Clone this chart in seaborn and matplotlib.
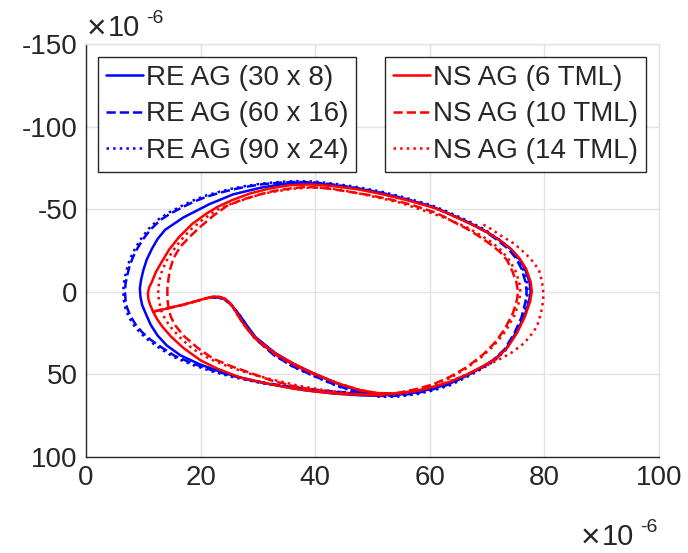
import numpy as np
import seaborn as sns
import matplotlib
matplotlib.use("Agg")
import matplotlib.pyplot as plt

# trajectories, in units of 1e-6
re30_x = [21.8, 22.6, 23.5, 24.3, 25.1, 26, 27, 28.2, 29.6, 33, 36.3, 39.5, 44, 48, 51, 54, 57.5, 60.6, 63.5, 66.3,
          69, 71.3, 73.3, 75, 76.5, 77.3, 77.6, 77.4, 76.6, 75.5, 74.1, 72.1, 69.8, 67.3, 64.8, 62.5, 60.4, 55.8,
          51.6, 47.3, 43, 40, 37.3, 34, 30.5, 27.5, 25.7, 21.5, 17, 13.8, 12.5, 11.5, 10.6, 10, 9.6, 9.4, 9.5, 9.8,
          10.4, 11.3, 12.5, 14.1, 16.5, 19.9, 24, 28.6, 33, 38, 43, 48, 52]
re30_y = [3.2, 3.1, 3.6, 4.8, 7, 10.5, 15, 21, 27.5, 37, 43.8, 49, 55.7, 60.5, 62.3, 62.5, 61, 58.5, 55.5, 51,
          46, 41, 34.5, 25, 15, 6, 0, -6, -14, -20.5, -26, -31.5, -36.5, -41, -45, -48.5, -51.5, -56,
          -59.5, -62.5, -64.5, -65.5, -66, -65, -63, -60.5, -59, -53, -45, -37.5, -32, -26, -19.5, -13, -7, -2, 3, 8,
          13, 20, 26.5, 32.5, 38.5, 44, 49, 53.5, 56.5, 59.5, 61.5, 62.7, 63]

re60_x = [22, 22.8, 23.6, 24.4, 25.2, 26, 27, 28.1, 29.4, 32.7, 36, 39.2, 43.8, 48, 51, 54, 57.5, 60.6, 63.4, 66,
          68.7, 71, 73, 74.7, 76, 76.7, 76.9, 76.7, 76, 75, 73.7, 71.7, 69.5, 67, 64.5, 62.2, 60, 55.5, 51.5, 47,
          43, 39.5, 36.5, 33.5, 30.5, 27.8, 25.7, 23.2, 21, 18.8, 17, 14.8, 13, 11.2, 10, 9, 8.2, 7.6, 7.2, 6.9, 6.8,
          6.9, 7.2, 7.8, 8.7, 9.8, 11.2, 12.9, 15.5, 18.7, 22, 25.7, 31, 37.3, 43, 49, 53]
re60_y = [3.4, 3.3, 3.9, 5.2, 7.5, 11, 15.5, 21.5, 28, 38, 45, 50, 56.8, 61.5, 63, 63, 61.5, 59, 56, 51.5,
          46.5, 41.5, 35, 25.5, 15.5, 6, 0, -6, -14, -20.5, -26, -31.5, -37, -41.5, -45.5, -49, -52, -56.5, -60, -63,
          -65, -66.3, -66.5, -66, -65, -63.5, -62, -59.8, -57.5, -54.5, -51.5, -47.5, -43.5, -37.5, -32, -26.5, -21,
          -15.5, -10, -5, 0, 5, 10, 15, 20, 24.5, 28.8, 33, 38.8, 43.5, 47.5, 51, 55, 58.3, 60.3, 61.7, 62.5]

re90_x = [22.2, 23, 23.8, 24.6, 25.4, 26.2, 27.2, 28.3, 29.6, 32.9, 36.2, 39.4, 44, 48.2, 51.2, 54.2, 57.7, 60.8,
          63.6, 66.2, 68.9, 71.2, 73.2, 74.9, 76.2, 76.9, 77.1, 76.9, 76.2, 75.2, 73.9, 71.9, 69.7, 67.2, 64.7,
          62.4, 60.2, 55.7, 51.7, 47.2, 43.2, 39.7, 36.7, 33.7, 30.6, 27.8, 25.5, 23, 20.7, 18.5, 16.7, 14.5, 12.7,
          10.9, 9.7, 8.7, 7.9, 7.3, 6.9, 6.6, 6.5, 6.6, 6.9, 7.5, 8.4, 9.5, 10.9, 12.6, 15.2, 18.4, 21.8, 25.5,
          30.9, 37.2, 43, 49, 53]
re90_y = [3.6, 3.5, 4.1, 5.5, 7.8, 11.5, 16, 22, 28.5, 38.5, 45.5, 50.5, 57.3, 62, 63.5, 63.5, 62, 59.5, 56.5,
          52, 47, 42, 35.5, 26, 16, 6.5, 0, -6.5, -14.5, -21, -26.5, -32, -37.5, -42, -46, -49.5, -52.5, -57,
          -60.5, -63.5, -65.5, -66.8, -67, -66.5, -65.5, -64, -62.5, -60.3, -58, -55, -52, -48, -44, -38, -32.5,
          -27, -21.5, -16, -10.5, -5, 0, 5, 10, 15.5, 20.5, 25, 29.3, 33.5, 39.3, 44, 48, 51.5, 55.5, 58.7, 60.7,
          62, 63]

ns6_x = [11.7, 17, 20.5, 21.6, 22.5, 23.4, 24.2, 24.9, 25.6, 26.4, 27.3, 28.5, 30, 33.3, 36.5, 39.6, 44, 47.8, 50.8,
         54, 57.5, 60.6, 63.5, 66.5, 69.3, 71.5, 73.5, 75.2, 76.6, 77.5, 77.8, 77.6, 76.8, 75.7, 74.3, 72.3, 70,
         67.5, 65, 62.8, 60.6, 56, 51.8, 47.5, 43.1, 39.1, 35.5, 32, 28.6, 25.5, 23, 21.1, 18.5, 16.2, 14.5, 13.2,
         12.2, 11.5, 11, 10.8, 10.9, 11.2, 11.7, 12.4, 13.3, 14.8, 17, 20, 22.9, 27, 31.6, 36, 40.3, 44, 47.8, 52]
ns6_y = [12.1, 7.8, 4.4, 3.4, 3, 3.2, 4.2, 6, 9, 13.5, 18.5, 24, 29.5, 38, 44, 49.3, 55.5, 59.5, 61.3,
         61.5, 60, 57.5, 54.5, 50, 45, 40.5, 34, 25, 15, 6, 0, -6, -14, -20, -25.5, -31, -36,
         -40.5, -44.5, -48, -51, -55.5, -59, -62, -64, -65, -64.5, -62.5, -59.5, -55.5, -51.5, -47.5, -41, -33,
         -25.5, -18, -12, -6, -2.5, 1, 4.5, 8, 12, 16.5, 21, 27, 34, 41.5, 46.5, 52, 55.5, 58.5, 60.5, 61.7, 62.3,
         62.5]

ns10_x = [11.7, 17, 20.5, 21.6, 22.5, 23.4, 24.2, 24.9, 25.6, 26.4, 27.4, 28.7, 30.2, 33.5, 36.7, 39.8, 44, 48, 51,
          54, 57.5, 60.6, 63.5, 66.5, 69.3, 71.3, 73, 74.5, 75.2, 75.4, 75.1, 74.4, 73.5, 72.3, 70.5, 68.2, 66.3,
          64.3, 62.5, 60.6, 56.5, 53, 49.5, 46, 42.3, 38.6, 35.5, 32.7, 30.4, 27.3, 24.6, 22.2, 20, 18, 16.4, 15.3,
          14.7, 14.4, 14.2, 14.2, 14.4, 14.8, 15.5, 17, 19.5, 22.2, 25.3, 28.6, 32.2, 36.1, 40, 43.5, 46.6, 50]
ns10_y = [12, 7.8, 4.4, 3.4, 3, 3.2, 4.2, 6, 9, 13.5, 19, 25, 30.5, 39, 45, 50, 55.5, 59.8, 61.5,
          61.5, 59, 56, 51.5, 45.5, 38, 31, 23, 13, 5, 0, -6, -12.5, -19, -24, -29, -34.5, -38.5,
          -42, -45.5, -48.4, -53, -56, -58.5, -60.5, -62.5, -63.5, -62.5, -61, -59, -55.8, -52, -46, -39.5, -33, -27,
          -20.5, -14, -8, -2, 4, 10, 15, 20, 26.5, 34, 40.5, 45, 49, 53.5, 57, 59.5, 61.2, 62, 62.5]

ns14_x = [11.7, 17, 20.5, 21.6, 22.5, 23.4, 24.2, 24.9, 25.6, 26.4, 27.3, 28.5, 30, 33.3, 36.5, 39.6, 44, 47.8, 51,
          54, 57.5, 60.6, 63.5, 66.3, 69, 71.2, 73.2, 74.8, 75.6, 75.8, 75.6, 74.9, 73.8, 72.5, 70.8, 69, 66.5,
          63.5, 60, 57.5, 54.8, 51, 47, 44.5, 42, 39.6, 36.5, 33.5, 31, 28.6, 25.5, 22.9, 20.5, 18.2, 16.5, 15.2,
          14.1, 13.3, 12.8, 12.6, 12.7, 13.1, 13.8, 14.8, 16.5, 18.6, 21.5, 25, 29, 33, 37, 41, 45, 48.5, 52, 55,
          58, 61, 64, 66.5, 68.8, 71.5, 74.2, 76.5, 77.8, 78.7, 79.4, 79.8, 79.8, 79.6, 79.1, 78.2, 77, 75.8, 74.5,
          72.5, 70.7, 68.8]
ns14_y = [12, 7.8, 4.4, 3.4, 3, 3.2, 4.2, 6, 9, 13.5, 18.5, 24, 29.5, 38, 44, 49.3, 55.5, 59.5, 61.5,
          61.5, 59.3, 56.5, 52.3, 46.5, 39.5, 32.5, 24, 14, 6, 0, -6, -13, -19.5, -25, -30, -34, -39,
          -43.6, -48, -50.8, -54, -57, -60, -61.7, -62.8, -63.2, -62.5, -61, -59.5, -57, -53.5, -49.6, -44, -37.5,
          -31, -25, -19, -13, -7, -1, 5, 11, 16.5, 21.5, 28, 34.5, 40.5, 45.5, 50, 53.5, 56.8, 59.2, 61, 62.2, 62.5,
          61.8, 60, 57.3, 53.5, 50, 46.5, 42, 37, 31, 25.5, 21, 13, 5, 0, -6, -12.5, -17.5, -22, -26, -29.6, -33.8,
          -38, -41.8]

labels = ["RE AG (30 x 8)", "RE AG (60 x 16)", "RE AG (90 x 24)",
          "NS AG (6 TML)", "NS AG (10 TML)", "NS AG (14 TML)"]
series = [(re30_x, re30_y), (re60_x, re60_y), (re90_x, re90_y),
          (ns6_x, ns6_y), (ns10_x, ns10_y), (ns14_x, ns14_y)]
colors = ["#0000ff", "#0000ff", "#0000ff", "#ff0000", "#ff0000", "#ff0000"]
styles = ["-", "--", ":", "-", "--", ":"]
xticks = [0, 20, 40, 60, 80, 100]
yticks = [-150, -100, -50, 0, 50, 100]

sns.set_style("white")
plt.rcParams["font.family"] = ["Liberation Sans", "DejaVu Sans"]
plt.rcParams["axes.unicode_minus"] = False

fig = plt.figure(figsize=(6.88, 5.53), dpi=100)
ax = fig.add_axes([86 / 688, 1 - 457 / 553, (659 - 86) / 688, (457 - 44) / 553])

for (xs, ys), lab, c, ls in zip(series, labels, colors, styles):
    sns.lineplot(x=xs, y=ys, sort=False, estimator=None,
                 ax=ax, color=c, linestyle=ls, lw=1.8, label=lab, legend=False)

ax.set_xlim(0, 100)
ax.set_ylim(100, -150)
ax.set_xticks(xticks)
ax.set_yticks(yticks)
ax.set_xticklabels([str(v) for v in xticks])
ax.set_yticklabels([str(v) for v in yticks])
ax.set_xlabel("")
ax.set_ylabel("")

ax.grid(True, color="#e3e3e3", lw=1)
ax.tick_params(direction="in", length=5, width=1, colors="#262626", labelsize=20,
               top=False, right=False, pad=6)
for s in ["left", "bottom"]:
    ax.spines[s].set_color("#262626")
    ax.spines[s].set_linewidth(1)
for s in ["top", "right"]:
    ax.spines[s].set_color("#e3e3e3")
    ax.spines[s].set_linewidth(1)

# exponent labels, MATLAB style (x 10^-6 at top left and bottom right)
def exponent(x0, base):
    fig.text(x0 / 688, 1 - (base + 2) / 553, "\u00d7", fontsize=24, color="#262626", va="baseline")
    fig.text((x0 + 21) / 688, 1 - base / 553, "10", fontsize=21, color="#262626", va="baseline")
    fig.text((x0 + 59) / 688, 1 - (base - 13) / 553, "-6", fontsize=14, color="#262626", va="baseline")

exponent(87, 36)
exponent(581, 545)

lines = ax.get_lines()
leg_kw = dict(loc="upper left", bbox_transform=fig.transFigure, borderaxespad=0, fontsize=20,
              handlelength=1.35, handletextpad=0.1, labelspacing=0.38, borderpad=0.28,
              fancybox=False, framealpha=1, edgecolor="#262626")
leg1 = ax.legend(lines[:3], labels[:3], bbox_to_anchor=(98 / 688, 1 - 57 / 553), **leg_kw)
ax.add_artist(leg1)
leg2 = ax.legend(lines[3:], labels[3:], bbox_to_anchor=(385 / 688, 1 - 57 / 553), **leg_kw)
for leg in (leg1, leg2):
    leg.get_frame().set_linewidth(1)

fig.savefig("out.png", dpi=100)
